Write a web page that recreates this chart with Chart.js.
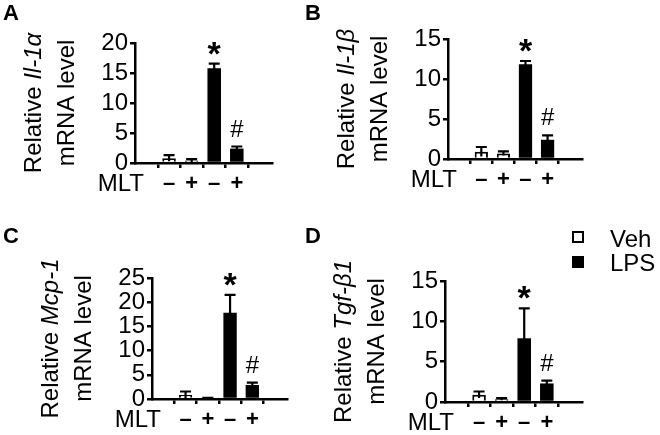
<!doctype html>
<html lang="en">
  <head>
    <meta charset="utf-8">
    <title>MLT / LPS mRNA</title>
    <script src="https://cdn.jsdelivr.net/npm/chart.js@4.4.0/dist/chart.umd.min.js"></script>
    <style>
      body { margin: 0; background: #fff; }
      #fig { position: relative; width: 660px; height: 435px; }
      canvas { position: absolute; }
    </style>
  </head>
  <body>
    <div id="fig">
      <canvas id="panelA" width="300" height="200" style="left:0;top:0"></canvas>
      <canvas id="panelB" width="360" height="200" style="left:300px;top:0"></canvas>
      <canvas id="panelC" width="300" height="235" style="left:0;top:200px"></canvas>
      <canvas id="panelD" width="360" height="235" style="left:300px;top:200px"></canvas>
    </div>

<script>
// bar order: Veh/MLT-, Veh/MLT+, LPS/MLT-, LPS/MLT+
const groups = ['Veh', 'LPS'];
const mltLabels = ['–', '+', '–', '+'];
const marks = ['', '', '*', '#'];

const il1aMean = [0.8, 0.4, 15.8, 2.4];
const il1aSem = [0.5, 0.25, 0.75, 0.35];
const il1bMean = [0.9, 0.7, 11.85, 2.4];
const il1bSem = [0.6, 0.25, 0.4, 0.55];
const mcp1Mean = [0.85, 0.15, 17.8, 2.9];
const mcp1Sem = [0.7, 0.1, 3.7, 0.5];
const tgfb1Mean = [0.9, 0.35, 7.9, 2.3];
const tgfb1Sem = [0.4, 0.12, 3.7, 0.35];

const FONT = '"Liberation Sans", Arial, sans-serif';

// error bars + significance marks
const errorBars = {
  id: 'errorBars',
  afterDatasetsDraw(chart, args, opts) {
    const ctx = chart.ctx;
    const y = chart.scales.y;
    ctx.save();
    ctx.strokeStyle = '#000';
    ctx.fillStyle = '#000';
    ctx.lineWidth = 2.2;
    chart.data.datasets.forEach((ds, d) => {
      chart.getDatasetMeta(d).data.forEach((bar, j) => {
        const i = ds.data[j].x;
        const m = ds.data[j].y;
        const top = y.getPixelForValue(m + opts.sem[i]);
        const bot = y.getPixelForValue(Math.max(0, m - opts.sem[i]));
        ctx.beginPath();
        ctx.moveTo(bar.x, bot);
        ctx.lineTo(bar.x, top);
        ctx.moveTo(bar.x - 5.5, top);
        ctx.lineTo(bar.x + 5.5, top);
        ctx.stroke();
        ctx.textAlign = 'center';
        ctx.textBaseline = 'alphabetic';
        if (marks[i] === '*') {
          ctx.font = 'bold 34px ' + FONT;
          ctx.fillText('*', bar.x, top + 1);
        } else if (marks[i] === '#') {
          ctx.font = '24px ' + FONT;
          ctx.fillText('#', bar.x, top - 10);
        }
      });
    });
    ctx.restore();
  }
};

// rotated two-line y title, MLT row label, panel letter, legend
const decor = {
  id: 'decor',
  afterDraw(chart, args, opts) {
    const ctx = chart.ctx;
    const a = chart.chartArea;
    const cy = (a.top + a.bottom) / 2;
    const f = '24px ' + FONT;
    ctx.save();
    ctx.fillStyle = '#000';
    ctx.textBaseline = 'alphabetic';

    ctx.font = f;
    const w1 = ctx.measureText('Relative ').width;
    ctx.font = 'italic ' + f;
    const w2 = ctx.measureText(opts.gene).width;
    ctx.save();
    ctx.translate(a.left - 94, cy);
    ctx.rotate(-Math.PI / 2);
    ctx.textAlign = 'left';
    ctx.font = f;
    ctx.fillText('Relative ', -(w1 + w2) / 2, 0);
    ctx.font = 'italic ' + f;
    ctx.fillText(opts.gene, -(w1 + w2) / 2 + w1, 0);
    ctx.restore();

    ctx.save();
    ctx.translate(a.left - 61, cy);
    ctx.rotate(-Math.PI / 2);
    ctx.textAlign = 'center';
    ctx.font = f;
    ctx.fillText('mRNA level', 0, 0);
    ctx.restore();

    ctx.font = f;
    ctx.textAlign = 'right';
    ctx.textBaseline = 'middle';
    ctx.fillText('MLT', a.left + 9, a.bottom + 21);

    ctx.font = 'bold 22px ' + FONT;
    ctx.textAlign = 'left';
    ctx.textBaseline = 'alphabetic';
    ctx.fillText(opts.letter, opts.letterX, opts.letterY);

    if (opts.legend) {
      const lx = 272;
      ctx.lineWidth = 2;
      ctx.strokeStyle = '#000';
      ctx.fillStyle = '#fff';
      ctx.fillRect(lx, 31, 12, 12);
      ctx.strokeRect(lx + 1, 32, 10, 10);
      ctx.fillStyle = '#000';
      ctx.fillRect(lx, 56, 12, 12);
      ctx.font = f;
      ctx.fillText(groups[0], 310, 47);
      ctx.fillText(groups[1], 310, 71);
    }
    ctx.restore();
  }
};

function makePanel(id, letter, letterX, letterY, gene, mean, sem, yMax, area, legend) {
  const canvas = document.getElementById(id);
  const W = canvas.width, H = canvas.height;
  const yW = 40, xH = 30;
  return new Chart(canvas, {
    type: 'bar',
    data: {
      datasets: [
        {
          label: groups[0],
          data: [0, 1].map(i => ({ x: i, y: mean[i] })),
          backgroundColor: '#fff',
          borderColor: '#000',
          borderWidth: 2,
        },
        {
          label: groups[1],
          data: [2, 3].map(i => ({ x: i, y: mean[i] })),
          backgroundColor: '#000',
          borderColor: '#000',
          borderWidth: 0,
        }
      ]
    },
    options: {
      responsive: false,
      animation: false,
      devicePixelRatio: 1,
      grouped: false,
      barPercentage: 0.6,
      categoryPercentage: 1,
      layout: {
        padding: {
          left: area.left - yW,
          top: area.top,
          right: W - area.right,
          bottom: H - area.bottom - xH
        }
      },
      scales: {
        x: {
          type: 'linear',
          min: -0.75,
          max: 3.8,
          z: 1,
          afterBuildTicks: s => { s.ticks = mltLabels.map((_, i) => ({ value: i })); },
          afterFit: s => { s.height = xH; },
          border: { color: '#000', width: 2.5 },
          grid: { drawOnChartArea: false, color: '#000', lineWidth: 2.5, tickLength: 5 },
          ticks: {
            color: '#000',
            padding: 3,
            autoSkip: false,
            maxRotation: 0,
            font: { family: FONT, size: 22, weight: 'bold' },
            callback: v => mltLabels[v]
          }
        },
        y: {
          min: 0,
          max: yMax,
          z: 1,
          afterFit: s => { s.width = yW; },
          border: { color: '#000', width: 2.5 },
          grid: { drawOnChartArea: false, color: '#000', lineWidth: 2.5, tickLength: 5 },
          ticks: {
            stepSize: 5,
            autoSkip: false,
            color: '#000',
            padding: 2,
            font: { family: FONT, size: 24 }
          }
        }
      },
      plugins: {
        legend: { display: false },
        tooltip: { enabled: false },
        errorBars: { sem: sem },
        decor: { gene: gene, letter: letter, letterX: letterX, letterY: letterY, legend: legend }
      }
    },
    plugins: [errorBars, decor]
  });
}

makePanel('panelA', 'A', 3, 20, 'Il-1α', il1aMean, il1aSem, 20,
  { left: 135, top: 43, right: 272, bottom: 163 }, false);
makePanel('panelB', 'B', 5, 20, 'Il-1β', il1bMean, il1bSem, 15,
  { left: 148, top: 39, right: 282, bottom: 159 }, false);
makePanel('panelC', 'C', 3, 43, 'Mcp-1', mcp1Mean, mcp1Sem, 25,
  { left: 152, top: 78, right: 287, bottom: 199 }, false);
makePanel('panelD', 'D', 5, 43, 'Tgf-β1', tgfb1Mean, tgfb1Sem, 15,
  { left: 145, top: 81, right: 282, bottom: 202 }, true);
</script>
  </body>
</html>
